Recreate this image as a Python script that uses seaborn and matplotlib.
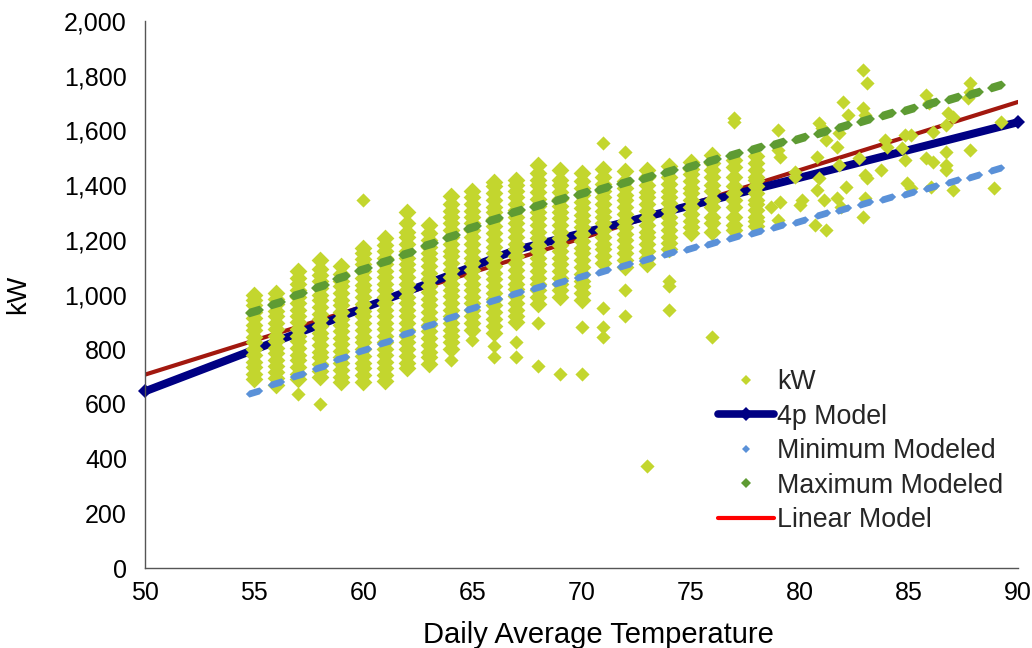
import numpy as np
import pandas as pd
import matplotlib
matplotlib.use("Agg")
import matplotlib.pyplot as plt
from matplotlib.path import Path
from matplotlib.lines import Line2D
from matplotlib.ticker import FuncFormatter
import seaborn as sns

# ---------------------------------------------------------------------------
# Metered demand (kW) by daily average temperature, one list per temperature
# ---------------------------------------------------------------------------
kw_55 = [690, 710, 735, 755, 780, 800, 825, 845, 870, 890, 915, 935, 960, 980, 1000]
kw_56 = [670, 695, 715, 740, 760, 785, 805, 830, 850, 875, 895, 920, 940, 965, 985, 1005]
kw_57 = [690, 710, 735, 760, 780, 805, 830, 850, 875, 900, 920, 945, 970, 990, 1015,
         1040, 1060, 1085]
kw_58 = [700, 720, 745, 770, 790, 815, 840, 860, 885, 910, 930, 955, 980, 1000, 1025,
         1050, 1070, 1095, 1125]
kw_59 = [680, 700, 725, 750, 770, 795, 820, 840, 865, 890, 910, 935, 960, 980, 1005, 1030,
         1050, 1075, 1105]
kw_60 = [680, 705, 730, 750, 775, 800, 825, 845, 870, 895, 920, 940, 965, 990, 1015, 1035,
         1060, 1085, 1110, 1130, 1150, 1170]
kw_61 = [685, 705, 730, 755, 780, 800, 825, 850, 875, 895, 920, 945, 970, 990, 1015, 1040,
         1065, 1085, 1110, 1135, 1160, 1180, 1205]
kw_62 = [730, 750, 775, 800, 825, 850, 870, 895, 920, 945, 970, 990, 1015, 1040, 1065, 1090,
         1110, 1135, 1160, 1185, 1210, 1230, 1260, 1300]
kw_63 = [745, 770, 790, 815, 840, 865, 890, 910, 935, 960, 985, 1010, 1030, 1055, 1080, 1105,
         1130, 1150, 1175, 1200, 1225, 1255]
kw_64 = [800, 825, 850, 870, 895, 920, 945, 970, 995, 1015, 1040, 1065, 1090, 1115, 1140,
         1160, 1185, 1210, 1235, 1260, 1285, 1305, 1330, 1360]
kw_65 = [870, 895, 920, 945, 970, 990, 1015, 1040, 1065, 1090, 1115, 1135, 1160, 1185,
         1210, 1235, 1260, 1285, 1305, 1330, 1355, 1380]
kw_66 = [860, 885, 910, 935, 960, 985, 1005, 1030, 1055, 1080, 1105, 1130, 1150,
         1175, 1200, 1225, 1250, 1275, 1300, 1320, 1345, 1370, 1395, 1410]
kw_67 = [900, 920, 945, 970, 995, 1020, 1040, 1065, 1090, 1115, 1140, 1165, 1185,
         1210, 1235, 1260, 1285, 1310, 1330, 1355, 1380, 1400, 1420]
kw_68 = [965, 990, 1015, 1040, 1060, 1085, 1110, 1135, 1160, 1180, 1205, 1230, 1255,
         1280, 1300, 1325, 1350, 1375, 1400, 1420, 1445, 1475]
kw_69 = [990, 1015, 1040, 1060, 1085, 1110, 1135, 1160, 1180, 1205, 1230, 1255, 1280,
         1300, 1325, 1350, 1375, 1400, 1420, 1455]
kw_70 = [980, 1005, 1030, 1050, 1075, 1100, 1125, 1150, 1170, 1195, 1220, 1245,
         1270, 1290, 1315, 1340, 1365, 1390, 1415, 1445]
kw_71 = [1115, 1140, 1165, 1185, 1210, 1235, 1260, 1285, 1305, 1330, 1355,
         1380, 1405, 1430, 1460]
kw_72 = [1100, 1125, 1150, 1175, 1200, 1220, 1245, 1270, 1295, 1320, 1345, 1365,
         1390, 1415, 1450]
kw_73 = [1110, 1135, 1160, 1185, 1210, 1230, 1255, 1280, 1305, 1330, 1355, 1375, 1400,
         1430, 1455]
kw_74 = [1165, 1190, 1210, 1235, 1260, 1285, 1310, 1335, 1355, 1380, 1405, 1430, 1470]
kw_75 = [1225, 1245, 1270, 1295, 1320, 1345, 1370, 1390, 1415, 1440, 1460, 1485]
kw_76 = [1230, 1260, 1285, 1320, 1345, 1380, 1400, 1430, 1455, 1480, 1510]
kw_77 = [1235, 1255, 1285, 1320, 1345, 1370, 1395, 1430, 1466, 1490]
kw_78 = [1250, 1270, 1285, 1310, 1330, 1345, 1370, 1395, 1420, 1430, 1455, 1480, 1505]

# Isolated readings (outliers and hot days), each with its own temperature
lone_temp = [57, 58, 60, 64, 65, 66, 66, 67, 67, 68, 68, 69, 70, 70,
             71, 71, 71, 71, 72, 72, 72, 73, 74, 74, 74, 76, 77, 77,
             78.7, 79.0, 79.0, 79.1, 79.1, 79.0, 79.8, 79.8, 80.0, 80.1,
             80.7, 81.2, 80.9, 81.0, 81.2, 80.8, 80.9, 80.8, 81.1, 81.7,
             81.8, 81.8, 82.1, 81.7, 81.9, 82.0, 82.2, 82.7, 82.9, 83.1,
             82.9, 83.0, 83.0, 83.1, 83.0, 82.9, 83.9, 84.0, 83.7, 84.8,
             84.7, 84.8, 85.1, 84.9, 85.1, 85.8, 85.9, 86.1, 85.8, 86.1,
             86.0, 86.8, 87.0, 86.7, 86.7, 86.7, 86.7, 87.0, 87.8, 87.8,
             87.7, 87.8, 89.2, 88.9]
lone_kw = [635, 598, 1345, 760, 835, 770, 810, 770, 825, 740, 895, 710, 710, 880,
           845, 880, 950, 1555, 920, 1015, 1520, 373, 945, 1030, 1050, 845, 1630, 1645,
           1320, 1601, 1528, 1503, 1338, 1272, 1448, 1430, 1327, 1345,
           1254, 1236, 1627, 1609, 1565, 1503, 1426, 1382, 1345, 1539,
           1590, 1473, 1393, 1353, 1320, 1704, 1656, 1499, 1821, 1773,
           1682, 1656, 1437, 1426, 1353, 1283, 1565, 1539, 1455, 1583,
           1536, 1492, 1583, 1408, 1389, 1729, 1700, 1594, 1499, 1484,
           1393, 1664, 1649, 1620, 1521, 1473, 1455, 1382, 1773, 1740,
           1718, 1528, 1631, 1389]

# Modeled band: lowest and highest expected demand at each temperature
model_temp = list(range(55, 90))
min_modeled = [643, 676, 706, 735, 768, 797, 826, 859, 888, 918, 951, 980, 1005, 1027,
               1046, 1068, 1086, 1108, 1130, 1152, 1170, 1188, 1210, 1229, 1250, 1269,
               1294, 1313, 1334, 1353, 1371, 1393, 1415, 1433, 1459]
max_modeled = [940, 969, 1002, 1031, 1064, 1093, 1122, 1152, 1185, 1214, 1247, 1276, 1305,
               1327, 1349, 1371, 1389, 1411, 1430, 1452, 1470, 1492, 1514, 1536, 1554,
               1572, 1594, 1616, 1638, 1660, 1678, 1700, 1718, 1737, 1762]

# Four-parameter change-point model and ordinary linear fit
fourp_temp = [50, 67, 90]
fourp_kw = [646, 1163, 1630]
linear_temp = [50, 90]
linear_kw = [707, 1704]

x_ticks = [50, 55, 60, 65, 70, 75, 80, 85, 90]
y_ticks = [0, 200, 400, 600, 800, 1000, 1200, 1400, 1600, 1800, 2000]

# ---------------------------------------------------------------------------
dense = [(55, kw_55), (56, kw_56), (57, kw_57), (58, kw_58), (59, kw_59), (60, kw_60),
         (61, kw_61), (62, kw_62), (63, kw_63), (64, kw_64), (65, kw_65), (66, kw_66),
         (67, kw_67), (68, kw_68), (69, kw_69), (70, kw_70), (71, kw_71), (72, kw_72),
         (73, kw_73), (74, kw_74), (75, kw_75), (76, kw_76), (77, kw_77), (78, kw_78)]
stacked = pd.DataFrame({
    "temp": [t for t, vals in dense for _ in vals],
    "kw": [v for _, vals in dense for v in vals],
})
lone = pd.DataFrame({"temp": lone_temp, "kw": lone_kw})
band = pd.DataFrame({"temp": model_temp, "lo": min_modeled, "hi": max_modeled})
fourp = pd.DataFrame({"temp": fourp_temp, "kw": fourp_kw})
linear = pd.DataFrame({"temp": linear_temp, "kw": linear_kw})

C_KW = "#C3D62E"
C_4P = "#000083"
C_MIN = "#5A91D8"
C_MAX = "#5E9B33"
C_LIN = "#A2180F"


def band_marker(h):
    """Elongated, tilted diamond used for the modeled-band points."""
    verts = [(-0.65 - h, -0.195), (-0.65, -0.195 - h), (0.65, 0.195 - h),
             (0.65 + h, 0.195), (0.65, 0.195 + h), (-0.65, -0.195 + h),
             (-0.65 - h, -0.195)]
    return Path(verts, closed=True)


sns.set_theme(style="white")
plt.rcParams["font.family"] = ["Liberation Sans", "DejaVu Sans"]

fig = plt.figure(figsize=(10.32, 6.48), dpi=100)
ax = fig.add_axes([145 / 1032, 1 - 568 / 648, 873 / 1032, 547 / 648])

sns.lineplot(data=linear, x="temp", y="kw", ax=ax, color=C_LIN, linewidth=3.0,
             estimator=None, sort=False, zorder=1, legend=False)
sns.lineplot(data=fourp, x="temp", y="kw", ax=ax, color=C_4P, linewidth=5.8,
             marker="D", markersize=7, markeredgewidth=0, estimator=None, sort=False,
             zorder=1.5, legend=False, clip_on=False, solid_capstyle="round")
# Many days share each whole-degree temperature, so those stacks sit wider
sns.scatterplot(data=stacked, x="temp", y="kw", ax=ax, color=C_KW, marker="D", s=82,
                linewidth=0, zorder=2, legend=False)
sns.scatterplot(data=lone, x="temp", y="kw", ax=ax, color=C_KW, marker="D", s=52,
                linewidth=0, zorder=2, legend=False)
sns.scatterplot(data=band, x="temp", y="lo", ax=ax, color=C_MIN, marker=band_marker(0.45),
                s=155, linewidth=0, zorder=3, legend=False)
sns.scatterplot(data=band, x="temp", y="hi", ax=ax, color=C_MAX, marker=band_marker(0.55),
                s=185, linewidth=0, zorder=3, legend=False)

ax.set_xlim(50, 90)
ax.set_ylim(0, 2000)
ax.set_xticks(x_ticks)
ax.set_yticks(y_ticks)
ax.yaxis.set_major_formatter(FuncFormatter(lambda v, _: f"{int(v):,}"))
ax.tick_params(axis="both", length=0, labelsize=18, colors="black")
ax.tick_params(axis="y", pad=13)
ax.tick_params(axis="x", pad=9)
ax.grid(False)
for side in ("top", "right"):
    ax.spines[side].set_visible(False)
for side in ("left", "bottom"):
    ax.spines[side].set_color("#555555")
    ax.spines[side].set_linewidth(1.0)

ax.set_xlabel("Daily Average Temperature", fontsize=21, color="black")
ax.set_ylabel("kW", fontsize=19.5, color="black")
ax.xaxis.set_label_coords(0.519, -0.097)
ax.yaxis.set_label_coords(-0.13, 0.5)

handles = [
    Line2D([], [], ls="none", marker="D", color=C_KW, markersize=5.6, markeredgewidth=0),
    Line2D([], [], color=C_4P, lw=5.5, marker="D", markersize=7, markeredgewidth=0,
           solid_capstyle="round"),
    Line2D([], [], ls="none", marker="D", color=C_MIN, markersize=3.6, markeredgewidth=0),
    Line2D([], [], ls="none", marker="D", color=C_MAX, markersize=4.6, markeredgewidth=0),
    Line2D([], [], color="#FF0000", lw=3.0, solid_capstyle="round"),
]
labels = ["kW", "4p Model", "Minimum Modeled", "Maximum Modeled", "Linear Model"]
fig.legend(handles, labels, loc="upper left", bbox_to_anchor=(718 / 1032, 1 - 369 / 648),
           bbox_transform=fig.transFigure, frameon=False, fontsize=19.3, numpoints=1,
           handlelength=2.1, handletextpad=0.1, labelspacing=0.32, borderpad=0,
           borderaxespad=0)

fig.savefig("out.png", dpi=100)
